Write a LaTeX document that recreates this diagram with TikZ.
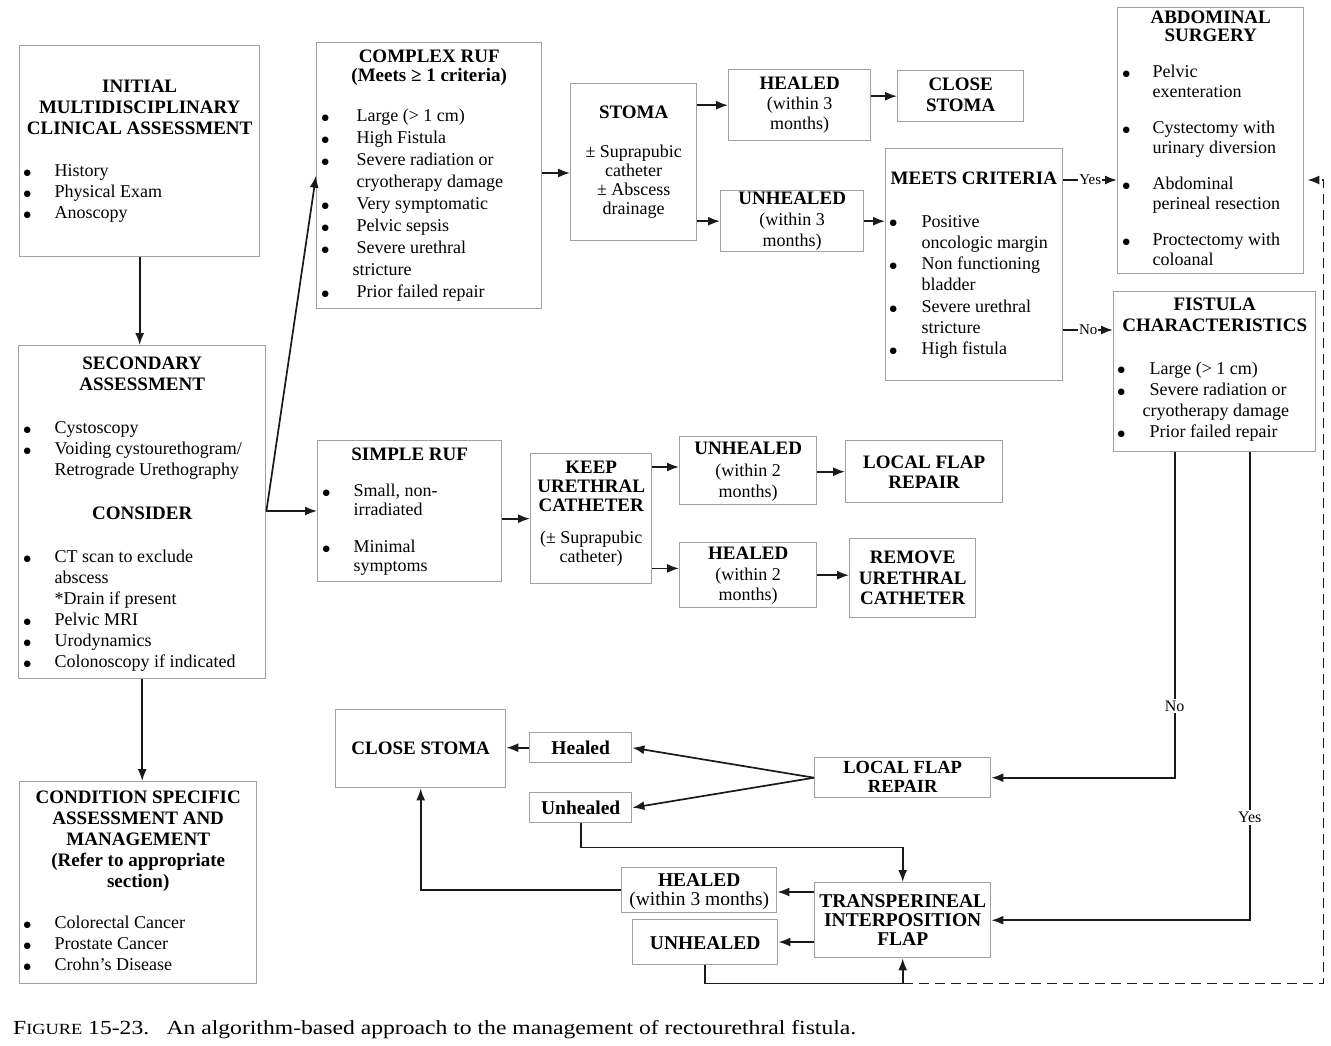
\documentclass[tikz,border=0pt]{standalone}
\usepackage{fontspec}
\setmainfont{Liberation Serif}
\newfontfamily\dvfont{DejaVu Sans}
\usepackage{graphicx}
\usetikzlibrary{arrows.meta,calc}
\definecolor{bc}{HTML}{A0A0A0}
\definecolor{lc}{HTML}{1A1A1A}
\newlength\bux \newlength\txx
\newcommand\bset[2]{\setlength\bux{#1pt}\setlength\txx{#2pt}}
\newcommand\bdot{\raisebox{1.2pt}{\dvfont\fontsize{8.5}{8.5}\selectfont ●}}
\newcommand\bi[1]{\par\hspace*{\bux}\makebox[\dimexpr\txx-\bux\relax][l]{\bdot}#1}
\newcommand\ci[1]{\par\hspace*{\txx}#1}
\newcommand\cix[2]{\par\hspace*{#1pt}#2}
\newcommand\vs[1]{\par\vspace{#1pt}}
\newcommand\fl[1]{\rule{0pt}{#1pt}}
\newcommand\fT[1][21]{\fontsize{19}{#1}\selectfont\bfseries}
\newcommand\fR[1][21]{\fontsize{18}{#1}\selectfont\mdseries}
\newcommand\fB[2][19]{\fontsize{#2}{#1}\selectfont\bfseries}
\newcommand\bxc[3]{\parbox[c][#2pt][t]{#1pt}{#3}}
\begin{document}
\begin{tikzpicture}[x=1pt,y=-1pt,
 bx/.style={draw=bc, line width=1.4pt, inner sep=0pt, anchor=north west, text=black},
 ln/.style={draw=lc, line width=1.7pt},
 arr/.style={ln, -{Latex[length=12pt,width=9pt]}},
 lbl/.style={fill=white, inner sep=1pt, text=black, font=\fontsize{15}{15}\selectfont},
 vlbl/.style={fill=white, inner sep=2pt, text=black, font=\fontsize{16}{16}\selectfont}]
\useasboundingbox (0,0) rectangle (1331,1045);
\fill[white] (0,0) rectangle (1331,1045);

% ---------------- left column
\node[bx] (init) at (19,45) {\bxc{240}{211}{{\fT\centering\fl{47}INITIAL\\MULTIDISCIPLINARY\\CLINICAL ASSESSMENT\par}\vs{21}\fR\bset{4}{35}\bi{History}\bi{Physical Exam}\bi{Anoscopy}}};

\node[bx] (sec) at (18,345) {\bxc{247}{333}{{\fT\centering\fl{24}SECONDARY\\ASSESSMENT\par}\vs{22}\fR\bset{5}{36}\bi{Cystoscopy}\bi{Voiding cystourethogram/}\ci{Retrograde Urethography}\vs{23}{\fT\centering CONSIDER\par}\vs{22}\bi{CT scan to exclude}\ci{abscess}\ci{*Drain if present}\bi{Pelvic MRI}\bi{Urodynamics}\bi{Colonoscopy if indicated}}};

\node[bx] (cond) at (19,781) {\bxc{237}{202}{{\fT\centering\fl{22}CONDITION SPECIFIC\\ASSESSMENT AND\\MANAGEMENT\\(Refer to appropriate\\section)\par}\vs{20}\fR\bset{4}{35}\bi{Colorectal Cancer}\bi{Prostate Cancer}\bi{Crohn’s Disease}}};

% ---------------- complex branch
\node[bx] (cx) at (316,42) {\bxc{225}{266}{{\fT\centering\fl{20}COMPLEX RUF\\[-2pt](Meets ≥ 1 criteria)\par}\fR[22]\vs{18}\bset{5}{40}\bi{Large (> 1 cm)}\bi{High Fistula}\bi{Severe radiation or}\ci{cryotherapy damage}\bi{Very symptomatic}\bi{Pelvic sepsis}\bi{Severe urethral}\cix{36}{stricture}\bi{Prior failed repair}}};

\node[bx] (stoma) at (570,83) {\bxc{126}{157}{{\fT[19]\centering\fl{35}STOMA\par}\vs{20}{\fR[19]\centering ± Suprapubic\\catheter\\± Abscess\\drainage\par}}};

\node[bx] (heal) at (728,69) {\bxc{142}{71}{{\fT\centering\fl{20}HEALED\par}{\fR[20]\centering (within 3\\months)\par}}};

\node[bx] (close) at (897,70) {\bxc{126}{51}{{\fT\centering\fl{20}CLOSE\\STOMA\par}}};

\node[bx] (unh) at (720,190) {\bxc{143}{61}{{\fT\centering\fl{14}UNHEALED\par}{\fR[21]\centering (within 3\\months)\par}}};

\node[bx] (meets) at (885,148) {\bxc{177}{232}{{\fT\hspace*{5pt}\fl{36}MEETS CRITERIA\par}\fR[21.3]\vs{21}\bset{4}{36}\bi{Positive}\ci{oncologic margin}\bi{Non functioning}\ci{bladder}\bi{Severe urethral}\ci{stricture}\bi{High fistula}}};

\node[bx] (abd) at (1117,7) {\bxc{186}{266}{{\fT[18]\centering\fl{16}ABDOMINAL\\SURGERY\par}\fR[20]\vs{16}\bset{5}{35}\bi{Pelvic}\ci{exenteration}\vs{16}\bi{Cystectomy with}\ci{urinary diversion}\vs{16}\bi{Abdominal}\ci{perineal resection}\vs{16}\bi{Proctectomy with}\ci{coloanal}}};

\node[bx] (fis) at (1113,291) {\bxc{202}{160}{{\fT\centering\fl{19}FISTULA\\CHARACTERISTICS\par}\fR[21.3]\vs{21}\bset{4}{36}\bi{Large (> 1 cm)}\bi{Severe radiation or}\cix{29}{cryotherapy damage}\bi{Prior failed repair}}};

% ---------------- simple branch
\node[bx] (simple) at (317,440) {\bxc{184}{141}{{\fT\centering\fl{20}SIMPLE RUF\par}\fR[19.5]\vs{16}\bset{5}{36}\bi{Small, non-}\ci{irradiated}\vs{17}\bi{Minimal}\ci{symptoms}}};

\node[bx] (keep) at (530,453) {\bxc{121}{130}{{\fT[19]\centering\fl{20}KEEP\\URETHRAL\\CATHETER\par}\vs{13}{\fR[19]\centering (± Suprapubic\\catheter)\par}}};

\node[bx] (unh2) at (679,436) {\bxc{137}{68}{{\fT\centering\fl{18}UNHEALED\par}{\fR[21.5]\centering (within 2\\months)\par}}};

\node[bx] (lf) at (845,440) {\bxc{157}{62}{{\fT[20]\centering\fl{28}LOCAL FLAP\\REPAIR\par}}};

\node[bx] (heal2) at (679,542) {\bxc{137}{65}{{\fT\centering\fl{17}HEALED\par}{\fR[20.5]\centering (within 2\\months)\par}}};

\node[bx] (rem) at (849,538) {\bxc{126}{79}{{\fT[20.5]\centering\fl{25}REMOVE\\URETHRAL\\CATHETER\par}}};

% ---------------- bottom
\node[bx] (cs2) at (335,709) {\bxc{170}{78}{{\fT\centering\fl{45}CLOSE STOMA\par}}};
\node[bx] (hs) at (529,732) {\bxc{102}{30}{{\fB[20]{19.5}\centering\fl{21.5}Healed\par}}};
\node[bx] (us) at (529,792) {\bxc{102}{30}{{\fB[20]{19.5}\centering\fl{21.5}Unhealed\par}}};
\node[bx] (lf2) at (814,757) {\bxc{176}{40}{{\fB[19]{18.5}\centering\fl{16}LOCAL FLAP\\REPAIR\par}}};
\node[bx] (ts) at (814,882) {\bxc{176}{75}{{\fB[19]{19.5}\centering\fl{25}TRANSPERINEAL\\INTERPOSITION\\FLAP\par}}};
\node[bx] (h3) at (621,867) {\bxc{155}{45}{{\fB[19]{19.5}\centering\fl{19}HEALED\par}{\fontsize{19.5}{19}\selectfont\centering (within 3 months)\par}}};
\node[bx] (u3) at (632,919) {\bxc{145}{45}{{\fB[19]{19.5}\centering\fl{29.5}UNHEALED\par}}};

% ---------------- connectors
\draw[arr] (init.south) -- (init.south |- sec.north);
\draw[arr] (sec.south) -- (sec.south |- cond.north);
\coordinate (sp) at ($(sec.north east)+(0,166)$);
\draw[arr] (sp) -- (cx.west);
\draw[arr] (sp) -- (sp -| simple.west);
\draw[arr] ($(cx.north east)+(0,131)$) coordinate (cxo) -- (cxo -| stoma.west);
\draw[arr] (stoma.east |- heal.west) -- (heal.west);
\draw[arr] (heal.east |- close.west) -- (close.west);
\draw[arr] (stoma.east |- unh.west) -- (unh.west);
\draw[arr] (unh.east) -- (unh.east -| meets.west);
\coordinate (yesA) at ($(meets.north east)+(0,32)$);
\draw[arr] (yesA) -- (yesA -| abd.west) node[lbl, midway] {Yes};
\coordinate (noA) at ($(meets.north east)+(0,182)$);
\draw[arr] (noA) -- (noA -| fis.west) node[lbl, midway] {No};
\draw[arr] (simple.east |- keep.west) -- (keep.west);
\draw[arr] ($(keep.north east)+(0,14)$) coordinate (ko1) -- (ko1 -| unh2.west);
\draw[arr] ($(keep.south east)+(0,-16)$) coordinate (ko2) -- (ko2 -| heal2.west);
\draw[arr] (unh2.east |- lf.west) -- (lf.west);
\draw[arr] (heal2.east) -- (heal2.east -| rem.west);
% fistula characteristics outputs
\draw[arr] ($(fis.south)+(-40,0)$) |- (lf2.east) node[vlbl, pos=0.39] {No};
\draw[arr] ($(fis.south)+(35,0)$) |- (ts.east) node[vlbl, pos=0.39] {Yes};
% local flap outcomes
\draw[arr] (lf2.west) -- (hs.east);
\draw[arr] (lf2.west) -- (us.east);
\draw[arr] (hs.west) -- (hs.west -| cs2.east);
\draw[arr] (us.south) -- ++(0,24) -| (ts.north);
% transperineal outcomes
\draw[arr] ($(ts.north west)+(0,10)$) coordinate (to1) -- (to1 -| h3.east);
\draw[arr] ($(ts.north west)+(0,60)$) coordinate (to2) -- (to2 -| u3.east);
\draw[arr] (h3.west) -| (cs2.south);
\coordinate (bj) at ($(ts.south)+(0,25)$);
\draw[ln] (u3.south) |- (bj);
\draw[arr] (bj) -- (ts.south);
\draw[arr, dash pattern=on 10pt off 6pt] (bj) -| ($(abd.east |- yesA)+(19,0)$) -- ($(abd.east |- yesA)+(3,0)$);

% ---------------- caption
\node[anchor=base west, inner sep=0pt, text=black] (cap) at (13,1034) {\resizebox{843pt}{\height}{\fontsize{20}{20}\selectfont F{\fontsize{15.5}{16}\selectfont IGURE} 15-23.\hspace{0.4em} An algorithm-based approach to the management of rectourethral fistula.}};
\end{tikzpicture}
\end{document}
